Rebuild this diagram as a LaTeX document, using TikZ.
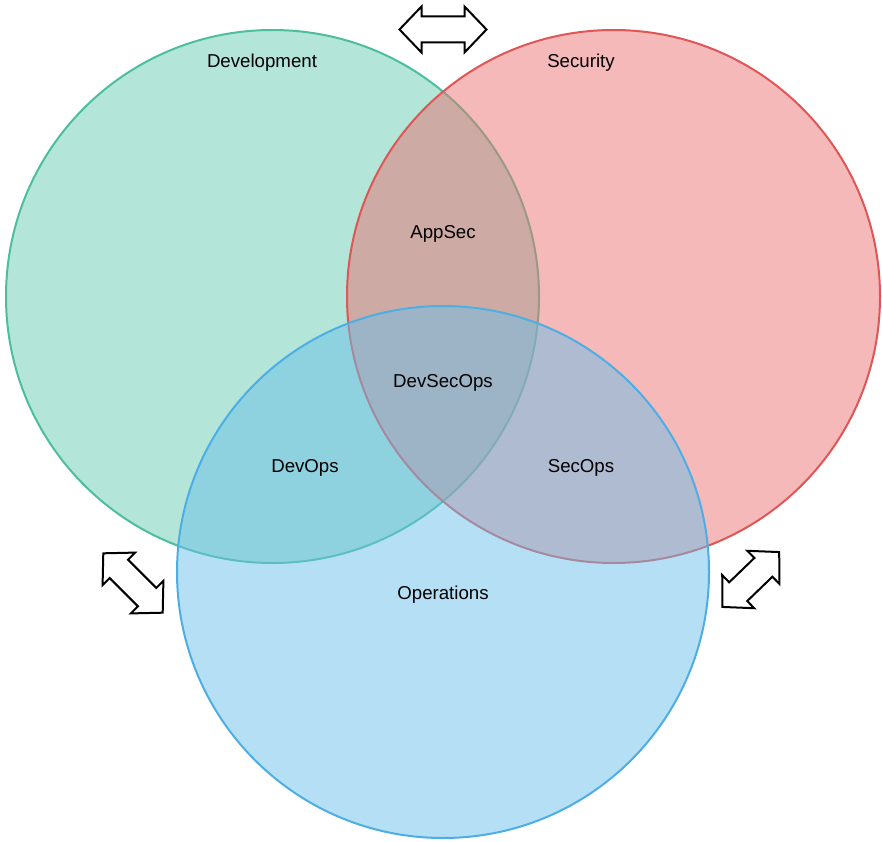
\documentclass[tikz,border=0pt]{standalone}
\usepackage{fontspec}
\setmainfont{Liberation Sans}
\definecolor{devfill}{RGB}{103,203,177}
\definecolor{devline}{RGB}{76,190,158}
\definecolor{secfill}{RGB}{233,115,113}
\definecolor{secline}{RGB}{224,86,86}
\definecolor{opsfill}{RGB}{107,191,233}
\definecolor{opsline}{RGB}{77,174,230}
\begin{document}
\begin{tikzpicture}[x=0.75pt,y=-0.75pt,
  setcircle/.style={line width=1.5pt, fill opacity=0.5},
  lbl/.style={font=\fontsize{14}{16}\selectfont, text=black, inner sep=0pt},
  arrowshape/.style={draw=black, line width=1.5pt, fill=white, line join=miter}]
\useasboundingbox (0,0) rectangle (882,842);
% circles
\draw[setcircle, draw=devline, fill=devfill] (272.5,296.5) circle[radius=266.5];
\draw[setcircle, draw=secline, fill=secfill] (613.5,296.5) circle[radius=266.5];
\draw[setcircle, draw=opsline, fill=opsfill] (443,572) circle[radius=266];
% labels
\node[lbl] (dev) at (262,63) {Development};
\node[lbl] (sec) at (581,63) {Security};
\node[lbl] (appsec) at (443,234) {AppSec};
\node[lbl] (devsecops) at (443,383) {DevSecOps};
\node[lbl] (devops) at (305,468) {DevOps};
\node[lbl] (secops) at (581,468) {SecOps};
\node[lbl] (ops) at (443,595) {Operations};
% double arrows
\newcommand{\myDblArrow}[4]{%
  \begin{scope}[shift={(#1,#2)}, rotate=#3]
    \draw[arrowshape] (-#4/2,0) -- (-#4/2+22,-23) -- (-#4/2+22,-13) -- (#4/2-22,-13) -- (#4/2-22,-23)
      -- (#4/2,0) -- (#4/2-22,23) -- (#4/2-22,13) -- (-#4/2+22,13) -- (-#4/2+22,23) -- cycle;
  \end{scope}}
\myDblArrow{443}{29.5}{0}{87}
\myDblArrow{133}{583}{-45}{84}
\myDblArrow{750.8}{579.5}{44}{79}
\end{tikzpicture}
\end{document}
